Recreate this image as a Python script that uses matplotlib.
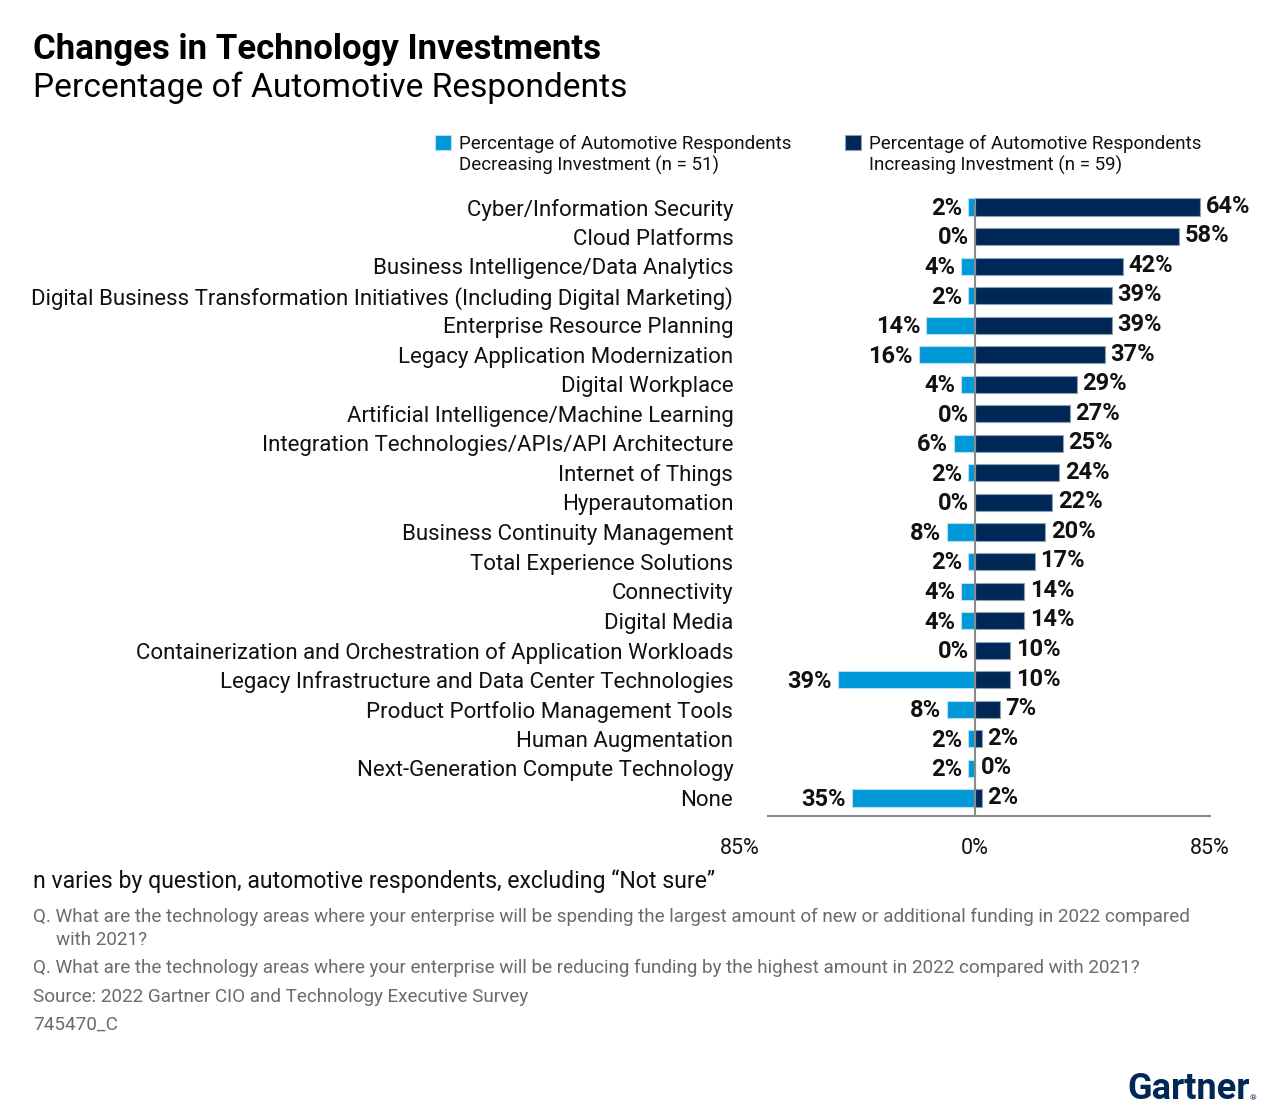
import matplotlib
matplotlib.use("Agg")
import matplotlib.pyplot as plt
from matplotlib.transforms import blended_transform_factory

plt.rcParams['font.family'] = ['Roboto', 'DejaVu Sans']

categories = [
    "Cyber/Information Security",
    "Cloud Platforms",
    "Business Intelligence/Data Analytics",
    "Digital Business Transformation Initiatives (Including Digital Marketing)",
    "Enterprise Resource Planning",
    "Legacy Application Modernization",
    "Digital Workplace",
    "Artificial Intelligence/Machine Learning",
    "Integration Technologies/APIs/API Architecture",
    "Internet of Things",
    "Hyperautomation",
    "Business Continuity Management",
    "Total Experience Solutions",
    "Connectivity",
    "Digital Media",
    "Containerization and Orchestration of Application Workloads",
    "Legacy Infrastructure and Data Center Technologies",
    "Product Portfolio Management Tools",
    "Human Augmentation",
    "Next-Generation Compute Technology",
    "None",
]
decreasing = [2, 0, 4, 2, 14, 16, 4, 0, 6, 2, 0, 8, 2, 4, 4, 0, 39, 8, 2, 2, 35]
increasing = [64, 58, 42, 39, 39, 37, 29, 27, 25, 24, 22, 20, 17, 14, 14, 10, 10, 7, 2, 0, 2]

light = '#0099D8'
dark = '#002856'
edge = '#8fa0b3'

fig = plt.figure(figsize=(12.8, 11.15), dpi=100)
ax = fig.add_axes([0.6, 0.2682, 0.3453, 0.5623])

y = list(range(len(categories)))
ax.barh(y, [-v for v in decreasing], height=0.58, color=light, edgecolor='#b8dff2', linewidth=0.8)
ax.barh(y, increasing, height=0.58, color=dark, edgecolor=edge, linewidth=0.8)

ax.set_xlim(-58.8, 66.8)
ax.set_ylim(20.61, -0.61)
ax.axvline(0, color='#8a8a8a', lw=1.5, ymax=0.975)

for i in y:
    ax.annotate(f"{decreasing[i]}%", (-decreasing[i], i), xytext=(-4, -1), textcoords='offset points',
                ha='right', va='center', fontsize=17, fontweight='bold', color='#111111')
    ax.annotate(f"{increasing[i]}%", (increasing[i], i), xytext=(4, 0.5), textcoords='offset points',
                ha='left', va='center', fontsize=17, fontweight='bold', color='#111111')

ax.set_yticks(y)
ax.set_yticklabels(categories, fontsize=16, color='#111111')
ax.tick_params(axis='y', length=0, pad=25)
ax.set_xticks([])
for s in ['top', 'right', 'left']:
    ax.spines[s].set_visible(False)
ax.spines['bottom'].set_color('#8a8a8a')
ax.spines['bottom'].set_linewidth(1.5)

tr = blended_transform_factory(ax.transAxes, fig.transFigure)
tick_y = 1 - 848 / 1115
ax.text(-0.063, tick_y, "85%", transform=tr, ha='center', va='center', fontsize=15.5, color='#111111')
ax.text(1.0, tick_y, "85%", transform=tr, ha='center', va='center', fontsize=15.5, color='#111111')
ax.text(0, tick_y, "0%", transform=blended_transform_factory(ax.transData, fig.transFigure),
        ha='center', va='center', fontsize=15.5, color='#111111')

# title
fig.text(33 / 1280, 1 - 49 / 1115, "Changes in Technology Investments", fontsize=25, fontweight='bold',
         va='center', ha='left', color='#000000')
fig.text(33 / 1280, 1 - 88 / 1115, "Percentage of Automotive Respondents", fontsize=24.2,
         va='center', ha='left', color='#000000')

# legend
for x0, col, ec, lines in [(435, light, '#b8dff2', "Percentage of Automotive Respondents\nDecreasing Investment (n = 51)"),
                           (845, dark, edge, "Percentage of Automotive Respondents\nIncreasing Investment (n = 59)")]:
    fig.patches.append(plt.Rectangle((x0 / 1280, 1 - 150 / 1115), 16 / 1280, 15 / 1115,
                                     transform=fig.transFigure, facecolor=col, edgecolor=ec, lw=0.8))
    fig.text((x0 + 24) / 1280, 1 - 135 / 1115, lines, fontsize=13.5, va='top', ha='left',
             color='#111111', linespacing=1.2)

# footer
fig.text(33 / 1280, 1 - 881 / 1115, "n varies by question, automotive respondents, excluding \u201cNot sure\u201d",
         fontsize=16.6, va='center', color='#111111')
gray = '#6b6b6b'
fs = 13.6
fig.text(33 / 1280, 1 - 917 / 1115,
         "Q. What are the technology areas where your enterprise will be spending the largest amount of new or additional funding in 2022 compared",
         fontsize=fs, va='center', color=gray)
fig.text(56 / 1280, 1 - 940 / 1115, "with 2021?", fontsize=fs, va='center', color=gray)
fig.text(33 / 1280, 1 - 968 / 1115,
         "Q. What are the technology areas where your enterprise will be reducing funding by the highest amount in 2022 compared with 2021?",
         fontsize=fs, va='center', color=gray)
fig.text(33 / 1280, 1 - 997 / 1115, "Source: 2022 Gartner CIO and Technology Executive Survey",
         fontsize=fs, va='center', color=gray)
fig.text(33 / 1280, 1 - 1025 / 1115, "745470_C", fontsize=fs, va='center', color=gray)

fig.text(1250 / 1280, 1 - 1089 / 1115, "Gartner", fontsize=26, fontweight='bold', ha='right',
         va='center', color=dark)
fig.text(1256 / 1280, 1 - 1098 / 1115, "\u00ae", fontsize=6, ha='right', va='center', color=dark)

fig.savefig("out.png", dpi=100)
